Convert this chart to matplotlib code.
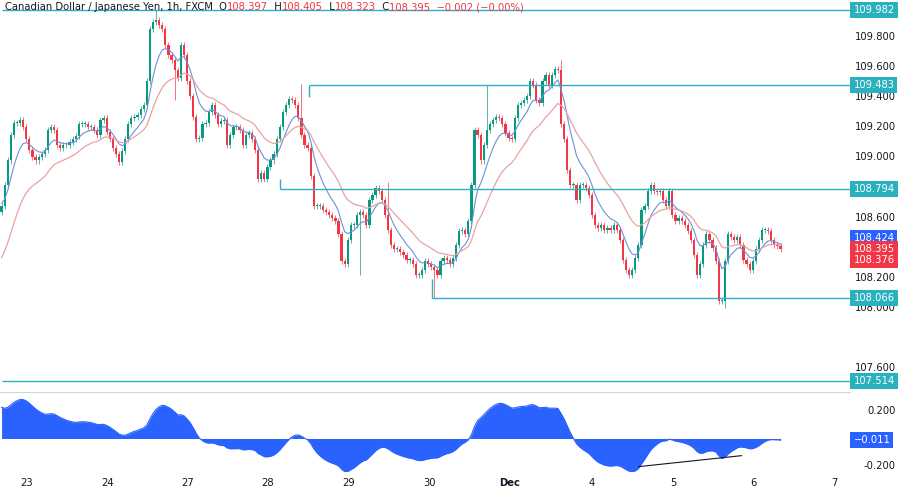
import matplotlib
matplotlib.use("Agg")
import matplotlib.pyplot as plt
from matplotlib.transforms import blended_transform_factory
import numpy as np

# hourly closes, CAD/JPY
closes = [
    108.68, 108.82, 108.98, 109.15, 109.23, 109.23, 109.25, 109.20, 109.12, 109.05, 109.00, 108.98, 109.00, 109.02,
    109.05, 109.18, 109.20, 109.18, 109.08, 109.06, 109.08, 109.08, 109.10, 109.12, 109.14, 109.22, 109.22, 109.22,
    109.20, 109.20, 109.18, 109.15, 109.25, 109.26, 109.17, 109.12, 109.06, 109.02, 108.97, 109.04, 109.12, 109.22,
    109.26, 109.27, 109.28, 109.32, 109.35, 109.51, 109.85, 109.90, 109.91, 109.88, 109.85, 109.75, 109.68, 109.65,
    109.58, 109.53, 109.75, 109.68, 109.51, 109.41, 109.27, 109.12, 109.13, 109.22, 109.23, 109.30, 109.35, 109.28,
    109.22,
    109.24, 109.25, 109.08, 109.15, 109.20, 109.20, 109.18, 109.08, 109.15, 109.16, 109.12, 109.05, 108.86, 108.90,
    108.86, 108.94, 108.98, 109.02, 109.12, 109.20, 109.30, 109.35, 109.39, 109.38, 109.35, 109.26, 109.15, 109.08,
    109.06, 108.88, 108.68, 108.68, 108.68, 108.65, 108.64, 108.62, 108.60, 108.58, 108.49, 108.31, 108.29, 108.45,
    108.55, 108.55, 108.62, 108.64, 108.62, 108.55, 108.72, 108.75, 108.80, 108.78, 108.72, 108.62, 108.52, 108.42,
    108.39, 108.39, 108.37, 108.35, 108.32, 108.32, 108.29, 108.22, 108.22, 108.25, 108.31, 108.29, 108.27, 108.25,
    108.22, 108.31, 108.33, 108.32, 108.29, 108.33,
    108.42, 108.51, 108.52, 108.49, 108.58, 108.82, 109.18, 109.15, 108.98, 109.08, 109.18, 109.22, 109.25, 109.27,
    109.26, 109.22, 109.16, 109.13, 109.12, 109.26, 109.35, 109.36, 109.38, 109.41, 109.51, 109.48, 109.38, 109.36,
    109.51, 109.55, 109.48, 109.55, 109.59, 109.58, 109.22, 109.12, 108.92, 108.82, 108.82, 108.72, 108.82, 108.82,
    108.80, 108.75, 108.62, 108.55, 108.53, 108.55, 108.52, 108.53, 108.52, 108.55, 108.52, 108.45, 108.32, 108.25,
    108.22, 108.25, 108.33, 108.42, 108.65, 108.68, 108.78, 108.82, 108.78, 108.77, 108.78, 108.72, 108.68, 108.78,
    108.62, 108.58, 108.60, 108.58, 108.55, 108.51, 108.45, 108.35, 108.22, 108.29, 108.42, 108.49, 108.45, 108.40,
    108.31, 108.05, 108.05, 108.31, 108.49, 108.47, 108.45, 108.47, 108.42, 108.32, 108.29, 108.25, 108.31, 108.39,
    108.45, 108.52, 108.52, 108.51, 108.45, 108.42, 108.41, 108.395,
]
first_open = 108.64
# notable wick extremes (candle index -> price)
highs_extra = {50: 109.98, 97: 109.49, 125: 108.84, 157: 109.48, 181: 109.65, 211: 108.84}
lows_extra = {56: 109.38, 140: 108.07, 234: 108.00, 116: 108.22}

levels = [109.982, 109.483, 108.794, 108.066, 107.514]
level_start_px = [0, 307, 278, 430, 0]
price_ticks = [109.8, 109.6, 109.4, 109.2, 109.0, 108.6, 108.2, 108.0, 107.6]
last_boxes = [108.424, 108.395, 108.376]
day_labels = ["23", "24", "27", "28", "29", "30", "Dec", "4", "5", "6", "7"]
day_px = [27, 108, 188, 268, 349, 430, 510, 592, 673, 753, 834]
title_parts = [("Canadian Dollar / Japanese Yen, 1h, FXCM  O", "k"), ("108.397", "r"), ("  H", "k"),
               ("108.405", "r"), ("  L", "k"), ("108.323", "r"), ("  C", "k"),
               ("108.395  \u22120.002 (\u22120.00%)", "r")]

GREEN, RED, TEAL, BLUE = "#089981", "#F23645", "#2AB1BE", "#2962FF"
FS = 7.2
TX = 896 / 850  # right edge of tick labels, in axes fraction

n = len(closes)
closes = np.array(closes)
opens = np.r_[first_open, closes[:-1]]
px = 779 / (n - 1)  # pixels per candle
x = np.arange(n)


def ema(v, span, seed):
    a = 2 / (span + 1)
    out, cur = [], seed
    for c in v:
        cur = a * c + (1 - a) * cur
        out.append(cur)
    return np.array(out)


fast = ema(closes, 8, 108.7)
slow = ema(closes, 21, 108.3)
osc = ema(closes, 12, 108.75) - ema(closes, 30, 108.5)

fig = plt.figure(figsize=(9, 4.92), dpi=100)
W = 850 / 900
ax = fig.add_axes([0, 100 / 492, W, 392 / 492])
ax2 = fig.add_axes([0, 20 / 492, W, 78 / 492])
xmax = 850 / px
for a in (ax, ax2):
    a.set_xlim(-0.5, xmax - 0.5)
    for s in a.spines.values():
        s.set_visible(False)
    a.set_yticks([])
    a.set_xticks([])

ax.set_ylim(109.8 - (392 - 37) / 150.6, 109.8 + 37 / 150.6)

for i in range(n):
    o, c = opens[i], closes[i]
    col = GREEN if c >= o else RED
    hi = highs_extra.get(i, max(o, c) + 0.02)
    lo = lows_extra.get(i, min(o, c) - 0.02)
    ax.vlines(i, lo, hi, color=col, lw=0.7, alpha=0.7)
    ax.bar(i, max(abs(c - o), 0.006), bottom=min(o, c), width=0.72, color=col, lw=0)

ax.plot(x, fast, color="#6E8FD8", lw=0.8)
ax.plot(x, slow, color="#E8A3A3", lw=0.9)

for lv, sp in zip(levels, level_start_px):
    ax.hlines(lv, sp / px, xmax, color=TEAL, lw=1.0, clip_on=False)
ax.vlines(307 / px, 109.40, 109.483, color=TEAL, lw=1.0)
ax.vlines(278 / px, 108.794, 108.86, color=TEAL, lw=1.0)
ax.vlines(430 / px, 108.066, 108.19, color=TEAL, lw=1.0)

tr = blended_transform_factory(ax.transAxes, ax.transData)
for t in price_ticks:
    ax.text(TX, t, f"{t:.3f}", transform=tr, ha="right", va="center", fontsize=FS, color="#131722", clip_on=False)
box = dict(boxstyle="square,pad=0.3", ec="none")
for v in levels:
    ax.text(1.004, v, f"{v:.3f}", transform=tr, ha="left", va="center", fontsize=FS, color="white",
            clip_on=False, bbox=dict(box, fc=TEAL))
for v, col, dy in zip(last_boxes, [BLUE, RED, RED], [7.5, 0, -8]):
    ax.annotate(f"{v:.3f}", (1.004, 108.395), xycoords=tr, xytext=(0, dy), textcoords="offset points",
                ha="left", va="center", fontsize=FS, color="white", annotation_clip=False,
                bbox=dict(box, fc=col))
ax.axhline(ax.get_ylim()[0], color="#D1D4DC", lw=0.8, clip_on=False)

# title, letters dark and values red
prev = fig.text(0.006, 0.985, title_parts[0][0], fontsize=FS, color="#131722", va="center")
for txt, c in title_parts[1:]:
    prev = fig.text(0, 0, txt, fontsize=FS, va="center", color=RED if c == "r" else "#131722")
    prev_anchor = prev
for i in range(1, len(title_parts)):
    pass
fig.texts[-len(title_parts):] = []
anchor = fig.text(0.006, 0.985, title_parts[0][0], fontsize=FS, color="#131722", va="center")
for txt, c in title_parts[1:]:
    anchor = fig.text(0, 0, "", fontsize=FS) if False else anchor
    anchor = ax.annotate(txt, xy=(1, 0.5), xycoords=anchor, va="center", ha="left", fontsize=FS,
                         color=RED if c == "r" else "#131722", annotation_clip=False)

# oscillator
ax2.set_ylim(-0.244, 0.324)
ax2.fill_between(x, 0, osc, color=BLUE, lw=0)
ax2.plot(x, osc, color=BLUE, lw=0.8)
ax2.plot([637 / px, 740 / px], [-0.205, -0.125], color="#131722", lw=0.8)
tr2 = blended_transform_factory(ax2.transAxes, ax2.transData)
for t in (0.2, -0.2):
    ax2.text(TX, t, f"{t:.3f}", transform=tr2, ha="right", va="center", fontsize=FS, color="#131722",
             clip_on=False)
ax2.text(1.004, osc[-1], "\u22120.011", transform=tr2, ha="left", va="center", fontsize=FS, color="white",
         clip_on=False, bbox=dict(box, fc=BLUE))

for lab, p in zip(day_labels, day_px):
    fig.text(p / 900, 9 / 492, lab, ha="center", va="center", fontsize=FS, color="#131722",
             fontweight="bold" if lab == "Dec" else "normal")

fig.savefig("out.png", dpi=100)
